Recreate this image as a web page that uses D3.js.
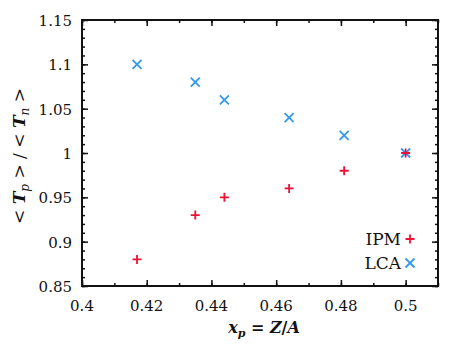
<!DOCTYPE html>
<html lang="en">
<head>
<meta charset="UTF-8">
<title>Tp/Tn</title>
<script src="https://d3js.org/d3.v7.min.js"></script>
<style>
  body { margin: 0; background: #fff; }
  svg text { font-family: "DejaVu Serif", "Liberation Serif", "Times New Roman", Times, serif; }
</style>
</head>
<body>
<div id="my_dataviz"></div>
<script>
// data
var xValues = [0.417, 0.435, 0.444, 0.464, 0.481, 0.5];
var ipmValues = [0.88, 0.93, 0.95, 0.96, 0.98, 1.0];
var lcaValues = [1.10, 1.08, 1.06, 1.04, 1.02, 1.0];
var xTicks = [0.4, 0.42, 0.44, 0.46, 0.48, 0.5];
var yTicks = [0.85, 0.9, 0.95, 1, 1.05, 1.1, 1.15];
var seriesNames = ["IPM", "LCA"];

var W = 458, H = 354;
var margin = {top: 20, right: 20, bottom: 68, left: 82};
var width = W - margin.left - margin.right,
    height = H - margin.top - margin.bottom;

var svg = d3.select("#my_dataviz").append("svg")
    .attr("width", W).attr("height", H)
    .attr("fill", "#111");
var g = svg.append("g")
    .attr("transform", "translate(" + margin.left + "," + margin.top + ")");

var x = d3.scaleLinear().domain([0.4, 0.51]).range([0, width]);
var y = d3.scaleLinear().domain([0.85, 1.15]).range([height, 0]);

var minorX = d3.range(0.4, 0.5101, 0.01);
var minorY = d3.range(0.85, 1.1501, 0.01);

// inward ticks on all four sides
function tickAxes(axisFn, scale, vals, size, tr) {
  var a = g.append("g").attr("transform", tr)
    .call(axisFn(scale).tickValues(vals).tickSize(size).tickFormat(""));
  a.select(".domain").remove();
  a.selectAll("line").attr("stroke", "#111").attr("stroke-width", 1.5);
}
tickAxes(d3.axisTop, x, minorX, 3, "translate(0," + height + ")");
tickAxes(d3.axisTop, x, xTicks, 6, "translate(0," + height + ")");
tickAxes(d3.axisBottom, x, minorX, 3, "translate(0,0)");
tickAxes(d3.axisBottom, x, xTicks, 6, "translate(0,0)");
tickAxes(d3.axisRight, y, minorY, 3, "translate(0,0)");
tickAxes(d3.axisRight, y, yTicks, 6, "translate(0,0)");
tickAxes(d3.axisLeft, y, minorY, 3, "translate(" + width + ",0)");
tickAxes(d3.axisLeft, y, yTicks, 6, "translate(" + width + ",0)");

// tick labels
g.selectAll(".xl").data(xTicks).enter().append("text")
  .attr("x", function(d) { return x(d); })
  .attr("y", height + 25)
  .attr("text-anchor", "middle")
  .style("font-size", "15px")
  .text(function(d) { return d3.format("")(d); });
g.selectAll(".yl").data(yTicks).enter().append("text")
  .attr("x", -10)
  .attr("y", function(d) { return y(d) + 6; })
  .attr("text-anchor", "end")
  .style("font-size", "15px")
  .text(function(d) { return d3.format("")(d); });

// frame
g.append("rect")
  .attr("width", width).attr("height", height)
  .attr("fill", "none").attr("stroke", "#111").attr("stroke-width", 2);

// axis titles
var xt = svg.append("text")
  .attr("x", margin.left + width / 2 + 4)
  .attr("y", H - 21)
  .attr("text-anchor", "middle")
  .style("font-size", "16px")
  .attr("font-weight", "bold").attr("font-style", "italic");
xt.append("tspan").text("x");
xt.append("tspan").attr("dy", 4).style("font-size", "11px").text("p");
xt.append("tspan").attr("dy", -4).attr("font-style", "normal").text(" = ");
xt.append("tspan").text("Z");
xt.append("tspan").attr("font-style", "normal").text("/");
xt.append("tspan").text("A");

var yt = svg.append("text")
  .attr("transform", "translate(25," + (margin.top + height / 2 + 3) + ") rotate(-90)")
  .attr("text-anchor", "middle")
  .style("font-size", "17px");
yt.append("tspan").text("< ");
yt.append("tspan").attr("font-weight", "bold").attr("font-style", "italic").text("T");
yt.append("tspan").attr("dy", 4).style("font-size", "12px").attr("font-style", "italic").text("p");
yt.append("tspan").attr("dy", -4).text(" > / < ");
yt.append("tspan").attr("font-weight", "bold").attr("font-style", "italic").text("T");
yt.append("tspan").attr("dy", 4).style("font-size", "12px").attr("font-style", "italic").text("n");
yt.append("tspan").attr("dy", -4).text(" >");

var red = "#ee1133", blue = "#3399ee";
var s = 4.5;
function plus(sel, cx, cy) {
  sel.append("path")
    .attr("d", "M" + (cx - s) + "," + cy + "H" + (cx + s) + "M" + cx + "," + (cy - s) + "V" + (cy + s))
    .attr("stroke", red).attr("stroke-width", 1.8).attr("fill", "none");
}
function cross(sel, cx, cy) {
  sel.append("path")
    .attr("d", "M" + (cx - s) + "," + (cy - s) + "L" + (cx + s) + "," + (cy + s) +
               "M" + (cx - s) + "," + (cy + s) + "L" + (cx + s) + "," + (cy - s))
    .attr("stroke", blue).attr("stroke-width", 1.8).attr("fill", "none");
}

xValues.forEach(function(v, i) { cross(g, x(v), y(lcaValues[i])); });
xValues.forEach(function(v, i) { plus(g, x(v), y(ipmValues[i])); });

// legend
var legX = 401, legY = [239, 263];
seriesNames.forEach(function(n, i) {
  svg.append("text")
    .attr("x", legX).attr("y", legY[i] + 6)
    .attr("text-anchor", "end")
    .style("font-size", "17px")
    .text(n);
  if (i === 0) plus(svg, legX + 9, legY[i]);
  else cross(svg, legX + 9, legY[i]);
});
</script>
</body>
</html>
